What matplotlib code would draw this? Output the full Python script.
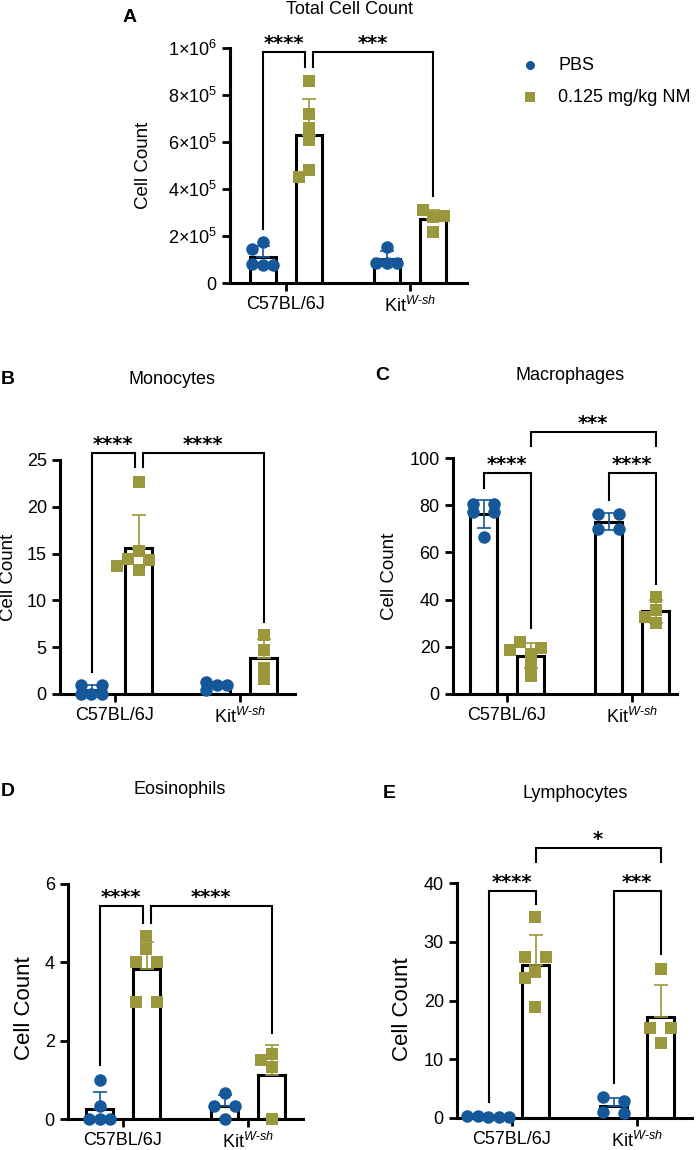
"""
BAL cell counts after NM exposure, five bar panels with scatter points
"""

import numpy as np
import matplotlib
matplotlib.use("Agg")
from matplotlib import pyplot as plt
from matplotlib.lines import Line2D

plt.rcParams["font.family"] = ["Liberation Sans", "DejaVu Sans"]
plt.rcParams["mathtext.fontset"] = "custom"
plt.rcParams["mathtext.rm"] = "Liberation Sans"
plt.rcParams["mathtext.it"] = "Liberation Sans:italic"
plt.rcParams["mathtext.bf"] = "Liberation Sans:bold"

# categories and series
groups = ["C57BL/6J", r"Kit$^{W\text{-}sh}$"]
series = ["PBS", "0.125 mg/kg NM"]
colors = ["#15589a", "#9b973c"]

# total cell count
total_pbs_c57 = [1.75e5, 1.45e5, 0.80e5, 0.75e5, 0.78e5]
total_nm_c57 = [8.6e5, 7.2e5, 6.6e5, 6.1e5, 4.8e5, 4.5e5]
total_pbs_kit = [1.55e5, 0.85e5, 0.85e5, 0.85e5]
total_nm_kit = [3.1e5, 2.85e5, 2.8e5, 2.17e5]

# monocytes
mono_pbs_c57 = [1.0, 1.0, 0.0, 0.0, 0.0]
mono_nm_c57 = [22.7, 15.3, 14.4, 14.3, 13.7, 13.3]
mono_pbs_kit = [1.3, 1.0, 1.0, 0.4]
mono_nm_kit = [6.3, 4.7, 2.8, 1.6]

# macrophages
macro_pbs_c57 = [80.5, 80.5, 77.0, 77.0, 66.5]
macro_nm_c57 = [18.5, 19.5, 22.0, 17.0, 12.5, 7.5]
macro_pbs_kit = [76.2, 76.2, 69.8, 69.8]
macro_nm_kit = [41.3, 35.7, 30.2, 32.8]

# eosinophils
eos_pbs_c57 = [1.0, 0.33, 0.0, 0.0, 0.0]
eos_nm_c57 = [4.67, 4.33, 4.0, 4.0, 3.0, 3.0]
eos_pbs_kit = [0.67, 0.33, 0.33, 0.0]
eos_nm_kit = [1.67, 1.5, 1.33, 0.0]

# lymphocytes
lymph_pbs_c57 = [0.3, 0.1, 0.2, 0.1, 0.3]
lymph_nm_c57 = [34.2, 27.4, 27.4, 24.9, 23.8, 18.9]
lymph_pbs_kit = [3.5, 2.9, 1.0, 0.8]
lymph_nm_kit = [25.3, 15.3, 15.3, 12.8]

# y ticks
total_ticks = [0, 2e5, 4e5, 6e5, 8e5, 1e6]
total_tick_labels = ["0", r"$2{\times}10^5$", r"$4{\times}10^5$", r"$6{\times}10^5$",
                     r"$8{\times}10^5$", r"$1{\times}10^6$"]
mono_ticks = [0, 5, 10, 15, 20, 25]
macro_ticks = [0, 20, 40, 60, 80, 100]
eos_ticks = [0, 2, 4, 6]
lymph_ticks = [0, 10, 20, 30, 40]

# significance: (bar a, bar b, bracket top, leg end a, leg end b, label)
total_sig = [(0, 1, 0.985e6, 2.3e5, 0.92e6, "****"), (1, 3, 0.985e6, 0.92e6, 3.7e5, "***")]
mono_sig = [(0, 1, 25.8, 2.3, 24.2, "****"), (1, 3, 25.8, 24.2, 7.7, "****")]
macro_sig = [(0, 1, 93.6, 87.2, 28.0, "****"), (2, 3, 93.6, 82.0, 46.4, "****"),
             (1, 3, 111.0, 105.0, 105.0, "***")]
eos_sig = [(0, 1, 5.45, 1.38, 5.0, "****"), (1, 3, 5.45, 5.0, 2.2, "****")]
lymph_sig = [(0, 1, 38.6, 2.7, 36.4, "****"), (2, 3, 38.6, 6.0, 27.9, "***"),
             (1, 3, 46.0, 43.6, 43.6, "*")]

W, H = 696, 1150
OFFSET = 0.188
BAR_W = 0.21


def fx(x):
    return x / W


def fy(y):
    return 1 - y / H


def swarm(ax, x0, values, step, row_gap=6, min_dist=8):
    """ Lay points out in centred rows, like a prism scatter """
    to_px = ax.transData.transform
    back = ax.transData.inverted().transform
    order = np.argsort(values)[::-1]
    rows = []
    for idx in order:
        py = to_px((x0, values[idx]))[1]
        if rows and abs(rows[-1][0] - py) <= row_gap:
            rows[-1][1].append(idx)
        else:
            rows.append((py, [idx]))
    cx = to_px((x0, 0))[0]
    xs = [0.0] * len(values)
    placed = []
    for py, members in rows:
        n = len(members)
        if n % 2 == 1:
            slots = [k - (n - 1) / 2 for k in range(n)]
        else:
            half = n // 2
            slots = list(range(-half, 0)) + list(range(1, half + 1))
        # shift the whole row sideways if it lands on the row above
        for shift in [0, -1, 1, -0.5, 0.5, -2, 2]:
            cand = [(cx + (k + shift) * step, to_px((x0, values[i]))[1])
                    for i, k in zip(members, slots)]
            if all(np.hypot(c[0] - p[0], c[1] - p[1]) >= min_dist
                   for c in cand for p in placed):
                break
        for idx, c in zip(members, cand):
            xs[idx] = back(c)[0]
            placed.append(c)
    return xs


def panel(fig, box, xlim, ticks, tick_labels, ymax, sets, sig, both_err,
          title, title_xy, letter, letter_xy, ylab_xy, ylab_size):
    """ One bar panel with points, SD bars and brackets """
    left, right, top, bottom = box
    ax = fig.add_axes([fx(left), fy(bottom), fx(right - left), (bottom - top) / H])
    ax.set_xlim(*xlim)
    ax.set_ylim(0, ymax)

    xpos = [0 - OFFSET, 0 + OFFSET, 1 - OFFSET, 1 + OFFSET]
    for i, vals in enumerate(sets):
        vals = np.array(vals)
        mean = vals.mean()
        sd = vals.std(ddof=1)
        col = colors[i % 2]
        ax.bar(xpos[i], mean, width=BAR_W, facecolor="white", edgecolor="black",
               linewidth=2.2, zorder=2)
        low = sd if both_err else 0
        ax.errorbar(xpos[i], mean, yerr=[[low], [sd]], fmt="none", ecolor=col,
                    elinewidth=1.2, capsize=4.7, capthick=1.2, zorder=3)
        xs = swarm(ax, xpos[i], vals, 10.5)
        marker = "o" if i % 2 == 0 else "s"
        size = 9 if marker == "o" else 8
        ax.plot(xs, vals, linestyle="none", marker=marker, markersize=size,
                color=col, markeredgewidth=0, zorder=4, clip_on=False)

    # brackets
    for a, b, ytop, ya, yb, label in sig:
        xa, xb = xpos[a], xpos[b]
        for other in sig:
            if other[2] == ytop and other[:2] != (a, b):
                if other[0] == b:
                    xb -= 0.032
                if other[1] == a:
                    xa += 0.032
        ax.plot([xa, xa, xb, xb], [ya, ytop, ytop, yb], color="black",
                linewidth=1.5, clip_on=False, zorder=5, solid_joinstyle="miter")
        ax.annotate(label, xy=((xa + xb) / 2, ytop), xytext=(0, 2),
                    textcoords="offset points", ha="center", va="baseline",
                    fontsize=14, fontweight="bold", family="DejaVu Sans",
                    annotation_clip=False)

    ax.spines["top"].set_visible(False)
    ax.spines["right"].set_visible(False)
    ax.spines["left"].set_linewidth(2.2)
    ax.spines["bottom"].set_linewidth(2.2)
    ax.set_yticks(ticks)
    ax.set_yticklabels(tick_labels)
    ax.set_xticks([0, 1])
    ax.set_xticklabels(groups)
    ax.tick_params(axis="both", labelsize=13, length=6, width=2, direction="out",
                   color="black")

    fig.text(fx(title_xy[0]), fy(title_xy[1]), title, ha="center", va="center",
             fontsize=13)
    fig.text(fx(letter_xy[0]), fy(letter_xy[1]), letter, ha="center", va="center",
             fontsize=14, fontweight="bold")
    fig.text(fx(ylab_xy[0]), fy(ylab_xy[1]), "Cell Count", ha="center", va="center",
             rotation=90, fontsize=ylab_size)
    return ax


fig = plt.figure(figsize=(W / 100, H / 100), dpi=100)

panel(fig, (230, 467, 48, 283), (-0.452, 1.46), total_ticks, total_tick_labels, 1e6,
      [total_pbs_c57, total_nm_c57, total_pbs_kit, total_nm_kit], total_sig, False,
      "Total Cell Count", (350, 9), "A", (130, 17), (143, 165), 13.5)

panel(fig, (60, 295, 460, 694), (-0.44, 1.44), mono_ticks, [str(t) for t in mono_ticks], 25,
      [mono_pbs_c57, mono_nm_c57, mono_pbs_kit, mono_nm_kit], mono_sig, False,
      "Monocytes", (172, 379), "B", (8, 379), (9, 577), 13.5)

panel(fig, (453, 677, 458, 694), (-0.432, 1.36), macro_ticks, [str(t) for t in macro_ticks], 100,
      [macro_pbs_c57, macro_nm_c57, macro_pbs_kit, macro_nm_kit], macro_sig, True,
      "Macrophages", (570, 376), "C", (382, 375), (390, 576), 13.5)

panel(fig, (68, 303, 884, 1119), (-0.44, 1.44), eos_ticks, [str(t) for t in eos_ticks], 6,
      [eos_pbs_c57, eos_nm_c57, eos_pbs_kit, eos_nm_kit], eos_sig, False,
      "Eosinophils", (180, 790), "D", (8, 791), (25, 1008), 16)

panel(fig, (457, 692, 883, 1118), (-0.44, 1.44), lymph_ticks, [str(t) for t in lymph_ticks], 40,
      [lymph_pbs_c57, lymph_nm_c57, lymph_pbs_kit, lymph_nm_kit], lymph_sig, False,
      "Lymphocytes", (575, 793), "E", (389, 794), (402, 1009), 16)

# legend
for j, (name, marker) in enumerate(zip(series, ["o", "s"])):
    ly = 65 + 32 * j
    fig.add_artist(Line2D([fx(530)], [fy(ly)], transform=fig.transFigure, marker=marker,
                          markersize=6.5, color=colors[j], linestyle="none",
                          markeredgewidth=0))
    fig.text(fx(558), fy(ly), name, ha="left", va="center", fontsize=13)

plt.savefig("out.png", dpi=100)
